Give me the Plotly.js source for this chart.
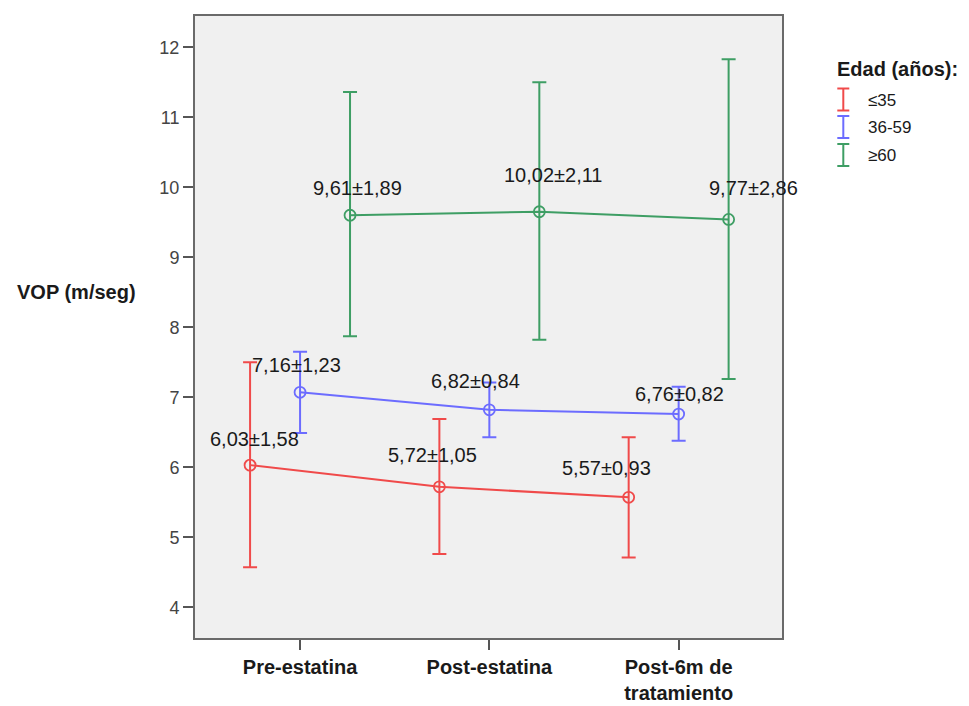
<!DOCTYPE html>
<html><head><meta charset="utf-8">
<script src="https://cdn.plot.ly/plotly-3.0.1.min.js"></script>
<style>html,body{margin:0;padding:0;background:#fff;}#chart{width:969px;height:706px;}</style>
</head><body><div id="chart"></div>
<script>
// ---- data ----
const categories = ['Pre-estatina', 'Post-estatina', 'Post-6m de<br>tratamiento'];
const groupNames = ['≤35', '36-59', '≥60'];
const legendTitle = 'Edad (años):';
const yTitle = 'VOP (m/seg)';

const meanLe35  = [6.03, 5.72, 5.57];
const upperLe35 = [7.50, 6.69, 6.43];
const lowerLe35 = [4.57, 4.76, 4.71];
const labelsLe35 = ['6,03±1,58', '5,72±1,05', '5,57±0,93'];

const mean36  = [7.07, 6.82, 6.76];
const upper36 = [7.65, 7.21, 7.15];
const lower36 = [6.49, 6.43, 6.38];
const labels36 = ['7,16±1,23', '6,82±0,84', '6,76±0,82'];

const meanGe60  = [9.60, 9.65, 9.54];
const upperGe60 = [11.36, 11.50, 11.83];
const lowerGe60 = [7.87, 7.82, 7.26];
const labelsGe60 = ['9,61±1,89', '10,02±2,11', '9,77±2,86'];

const yTicks = [4, 5, 6, 7, 8, 9, 10, 11, 12];

// ---- styling ----
const colors = ['#f04a4a', '#6c6cff', '#3e9e64'];
const offsets = [-0.264, 0, 0.264];
// label shifts in px [dx, dy up]
const shifts = [
  [[4, 26], [-7, 32], [-22, 29]],
  [[-4, 27], [-14, 29], [1, 20]],
  [[7, 27], [14, 37], [25, 31]]
];

const series = [
  {mean: meanLe35, up: upperLe35, lo: lowerLe35, labels: labelsLe35},
  {mean: mean36, up: upper36, lo: lower36, labels: labels36},
  {mean: meanGe60, up: upperGe60, lo: lowerGe60, labels: labelsGe60}
];

const FONT = 'Liberation Sans, Arial, sans-serif';
const traces = [];
const annotations = [];
series.forEach((s, gi) => {
  const xs = categories.map((c, i) => i + offsets[gi]);
  traces.push({
    type: 'scatter', mode: 'lines+markers', name: groupNames[gi],
    x: xs, y: s.mean, showlegend: false,
    line: {color: colors[gi], width: 2},
    marker: {symbol: 'circle-open', size: 11, color: colors[gi], line: {width: 1.8, color: colors[gi]}},
    error_y: {type: 'data', symmetric: false,
      array: s.mean.map((m, i) => s.up[i] - m),
      arrayminus: s.mean.map((m, i) => m - s.lo[i]),
      color: colors[gi], thickness: 2, width: 7},
    hoverinfo: 'x+y'
  });
  s.labels.forEach((t, i) => {
    annotations.push({x: xs[i], y: s.mean[i], xref: 'x', yref: 'y', text: t, showarrow: false,
      xanchor: 'center', yanchor: 'middle',
      xshift: shifts[gi][i][0], yshift: shifts[gi][i][1],
      font: {family: FONT, size: 20, color: '#1a1a1a'}});
  });
});

const W = 969, H = 706;
const M = {l: 195, r: 187, t: 16, b: 68};
const pw = W - M.l - M.r, ph = H - M.t - M.b;
const px = x => (x - M.l) / pw;
const py = y => (H - M.b - y) / ph;

// y axis title
annotations.push({xref: 'paper', yref: 'paper', x: px(76), y: py(292), xanchor: 'center', yanchor: 'middle',
  text: '<b>' + yTitle + '</b>', showarrow: false, font: {family: FONT, size: 20, color: '#1a1a1a'}});
// legend title
annotations.push({xref: 'paper', yref: 'paper', x: px(835), y: py(69), xanchor: 'left', yanchor: 'middle',
  text: '<b>' + legendTitle + '</b>', showarrow: false, font: {family: FONT, size: 20, color: '#1a1a1a'}});

const shapes = [];
const legY = [99.5, 127, 155];
groupNames.forEach((g, gi) => {
  annotations.push({xref: 'paper', yref: 'paper', x: px(866), y: py(legY[gi] + 1), xanchor: 'left', yanchor: 'middle',
    text: g, showarrow: false, font: {family: FONT, size: 17, color: '#1a1a1a'}});
  const cx = 843.3, top = legY[gi] - 11, bot = legY[gi] + 11;
  const ln = {color: colors[gi], width: 2};
  shapes.push({type: 'line', xref: 'paper', yref: 'paper', x0: px(cx), x1: px(cx), y0: py(top), y1: py(bot), line: ln});
  shapes.push({type: 'line', xref: 'paper', yref: 'paper', x0: px(cx - 6), x1: px(cx + 6), y0: py(top), y1: py(top), line: ln});
  shapes.push({type: 'line', xref: 'paper', yref: 'paper', x0: px(cx - 6), x1: px(cx + 6), y0: py(bot), y1: py(bot), line: ln});
});

const layout = {
  width: W, height: H, margin: M,
  paper_bgcolor: '#ffffff', plot_bgcolor: '#f0f0f0',
  showlegend: false,
  xaxis: {range: [-0.555, 2.546], tickvals: categories.map((c, i) => i), ticktext: categories,
    showgrid: false, zeroline: false, showline: true, mirror: true, linecolor: '#6a6a6a', linewidth: 2,
    ticks: 'outside', ticklen: 10, tickwidth: 2, tickcolor: '#555',
    tickfont: {family: FONT, size: 20, color: '#1a1a1a', weight: 'bold'},
    ticklabelstandoff: 0, fixedrange: true},
  yaxis: {range: [3.56, 12.447], tickvals: yTicks, ticktext: yTicks.map(String),
    showgrid: false, zeroline: false, showline: true, mirror: true, linecolor: '#6a6a6a', linewidth: 2,
    ticks: 'outside', ticklen: 10, tickwidth: 2, tickcolor: '#555',
    tickfont: {family: FONT, size: 18, color: '#444'}, fixedrange: true},
  annotations: annotations, shapes: shapes
};

Plotly.newPlot('chart', traces, layout, {displayModeBar: false, staticPlot: true});
</script>
</body></html>
